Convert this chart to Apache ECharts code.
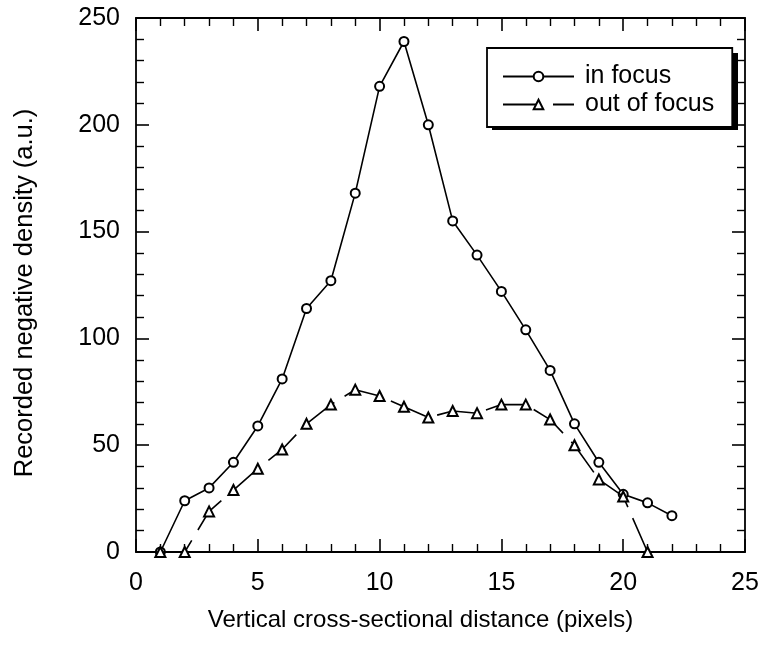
<!DOCTYPE html>
<html>
<head>
<meta charset="utf-8">
<script src="https://cdn.jsdelivr.net/npm/echarts@6/dist/echarts.min.js"></script>
<style>html,body{margin:0;padding:0;background:#fff}#c{width:764px;height:645px}</style>
</head>
<body>
<div id="c"></div>
<script>
const xValues = [1,2,3,4,5,6,7,8,9,10,11,12,13,14,15,16,17,18,19,20,21,22];
const inFocus = [0,24,30,42,59,81,114,127,168,218,239,200,155,139,122,104,85,60,42,27,23,17];
const xValuesOut = [1,2,3,4,5,6,7,8,9,10,11,12,13,14,15,16,17,18,19,20,21];
const outOfFocus = [0,0,19,29,39,48,60,69,76,73,68,63,66,65,69,69,62,50,34,26,0];
const seriesNames = ['in focus','out of focus'];
const xAxisTitle = 'Vertical cross-sectional distance (pixels)';
const yAxisTitle = 'Recorded negative density (a.u.)';

const FONT = 'Liberation Sans, Helvetica, Arial, sans-serif';
const chart = echarts.init(document.getElementById('c'));
function axisCommon() {
  return {
    axisLine: {show: true, onZero: false, lineStyle: {color: '#000', width: 1.8}},
    axisTick: {show: true, inside: true, length: 13, lineStyle: {color: '#000', width: 1.6}},
    minorTick: {show: true, splitNumber: 5, length: 8, lineStyle: {color: '#000', width: 1.4}},
    splitLine: {show: false}
  };
}
chart.setOption({
  animation: false,
  backgroundColor: '#fff',
  grid: {left: 136, right: 19, top: 18, bottom: 93, containLabel: false},
  xAxis: [
    Object.assign({type: 'value', min: 0, max: 25, interval: 5, position: 'bottom',
      name: xAxisTitle, nameLocation: 'middle', nameGap: 56,
      nameTextStyle: {fontFamily: FONT, fontSize: 24, color: '#000', padding: [0, 40, 0, 0]},
      axisLabel: {fontFamily: FONT, fontSize: 25, color: '#000', margin: 19}}, axisCommon()),
    Object.assign({type: 'value', min: 0, max: 25, interval: 5, position: 'top',
      axisLabel: {show: false}}, axisCommon())
  ],
  yAxis: [
    Object.assign({type: 'value', min: 0, max: 250, interval: 50, position: 'left',
      name: yAxisTitle, nameLocation: 'middle', nameGap: 98, nameRotate: 90,
      nameTextStyle: {fontFamily: FONT, fontSize: 25.5, color: '#000', padding: [0, 16, 0, 0]},
      axisLabel: {fontFamily: FONT, fontSize: 25, color: '#000', margin: 16}}, axisCommon()),
    Object.assign({type: 'value', min: 0, max: 250, interval: 50, position: 'right',
      axisLabel: {show: false}}, axisCommon())
  ],
  graphic: [{
    type: 'rect', z: 0, zlevel: 0,
    shape: {x: 492, y: 53, width: 246, height: 77},
    style: {fill: '#000'}
  }],
  legend: {
    show: true,
    left: 487, top: 48,
    orient: 'vertical',
    align: 'left',
    padding: [16, 18, 10, 15],
    itemGap: 3,
    itemWidth: 71, itemHeight: 12,
    backgroundColor: '#fff',
    borderColor: '#000', borderWidth: 1.8, borderRadius: 0,
    z: 10,
    textStyle: {fontFamily: FONT, fontSize: 25, color: '#000', padding: [0, 0, 0, 6]},
    data: seriesNames
  },
  series: [
    {
      name: seriesNames[0], type: 'line',
      data: xValues.map((x, i) => [x, inFocus[i]]),
      symbol: 'emptyCircle', symbolSize: 9, showSymbol: true,
      lineStyle: {color: '#000', width: 1.6, type: 'solid'},
      itemStyle: {color: '#000', borderColor: '#000', borderWidth: 1},
      z: 3
    },
    {
      name: seriesNames[1], type: 'line',
      data: xValuesOut.map((x, i) => [x, outOfFocus[i]]),
      symbol: 'emptyTriangle', symbolSize: 10, showSymbol: true,
      lineStyle: {color: '#000', width: 1.6, type: [38, 12]},
      itemStyle: {color: '#000', borderColor: '#000', borderWidth: 1.6},
      z: 4
    }
  ]
});
</script>
</body>
</html>
